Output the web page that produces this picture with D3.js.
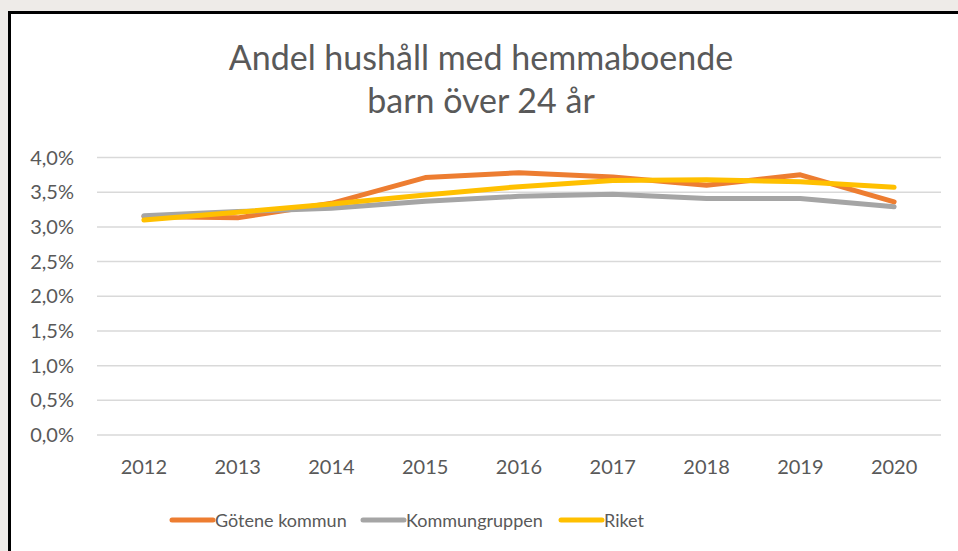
<!DOCTYPE html>
<html>
<head>
<meta charset="utf-8">
<script src="https://cdn.jsdelivr.net/npm/d3@7"></script>
<style>
  html, body { margin: 0; padding: 0; background: #eeebe8; overflow: hidden; }
  #chart { position: absolute; left: 8px; top: 11px; width: 980px; height: 580px;
           border: 3px solid #000; background: #fff; }
  svg text { font-family: Lato, "Open Sans", sans-serif; fill: #595959; }
</style>
</head>
<body>
<div id="chart"></div>
<script>
var years = ["2012","2013","2014","2015","2016","2017","2018","2019","2020"];
var gotene = [3.15, 3.13, 3.34, 3.71, 3.78, 3.72, 3.60, 3.75, 3.36];
var kommungruppen = [3.16, 3.22, 3.27, 3.37, 3.44, 3.47, 3.41, 3.41, 3.29];
var riket = [3.10, 3.21, 3.33, 3.46, 3.58, 3.67, 3.68, 3.65, 3.57];
var seriesNames = ["Götene kommun", "Kommungruppen", "Riket"];
var seriesColors = ["#ED7D31", "#A5A5A5", "#FFC000"];
var yTicks = [0, 0.5, 1, 1.5, 2, 2.5, 3, 3.5, 4];
var titleLines = ["Andel hushåll med hemmaboende", "barn över 24 år"];

// svg coords are relative to inner box (page offset 11,14)
var offX = 11, offY = 14;
var width = 980, height = 580;
var plotL = 97 - offX, plotR = 941 - offX, plotT = 157.5 - offY, plotB = 435 - offY;

var svg = d3.select("#chart").append("svg")
    .attr("width", width).attr("height", height);

var x = d3.scaleBand().domain(years).range([plotL, plotR]);
var y = d3.scaleLinear().domain([0, 4]).range([plotB, plotT]);

// title
svg.append("g").selectAll("text")
    .data(titleLines)
    .enter().append("text")
    .attr("x", 481 - offX)
    .attr("y", function(d, i){ return 70 - offY + i*43; })
    .attr("text-anchor", "middle")
    .style("font-size", "34px")
    .text(function(d){ return d; });

// grid
svg.append("g").selectAll("line")
    .data(yTicks)
    .enter().append("line")
    .attr("x1", plotL).attr("x2", plotR)
    .attr("y1", function(d){ return y(d); })
    .attr("y2", function(d){ return y(d); })
    .style("stroke", "#d9d9d9")
    .style("stroke-width", 1.5);

var fmt = function(d){ return d.toFixed(1).replace(".", ",") + "%"; };
svg.append("g").selectAll("text")
    .data(yTicks)
    .enter().append("text")
    .attr("x", 74 - offX)
    .attr("y", function(d){ return y(d) + 7; })
    .attr("text-anchor", "end")
    .style("font-size", "20px")
    .text(fmt);

svg.append("g").selectAll("text")
    .data(years)
    .enter().append("text")
    .attr("x", function(d){ return x(d) + x.bandwidth()/2; })
    .attr("y", 474 - offY)
    .attr("text-anchor", "middle")
    .style("font-size", "20px")
    .text(function(d){ return d; });

// lines
var data = [gotene, kommungruppen, riket];
var line = d3.line()
    .x(function(d, i){ return x(years[i]) + x.bandwidth()/2; })
    .y(function(d){ return y(d); });

svg.append("g").selectAll("path")
    .data(data)
    .enter().append("path")
    .attr("d", function(d){ return line(d); })
    .style("fill", "none")
    .style("stroke", function(d, i){ return seriesColors[i]; })
    .style("stroke-width", 5)
    .style("stroke-linecap", "round")
    .style("stroke-linejoin", "round");

// legend
var legendX = [172, 363, 561];
var legend = svg.append("g").selectAll("g")
    .data(seriesNames)
    .enter().append("g")
    .attr("transform", function(d, i){ return "translate(" + (legendX[i] - offX) + "," + (520 - offY) + ")"; });
legend.append("line")
    .attr("x1", 0).attr("x2", 41)
    .attr("y1", 0).attr("y2", 0)
    .style("stroke", function(d, i){ return seriesColors[i]; })
    .style("stroke-width", 5)
    .style("stroke-linecap", "round");
legend.append("text")
    .attr("x", 43)
    .attr("y", 7)
    .style("font-size", "18px")
    .text(function(d){ return d; });
</script>
</body>
</html>
